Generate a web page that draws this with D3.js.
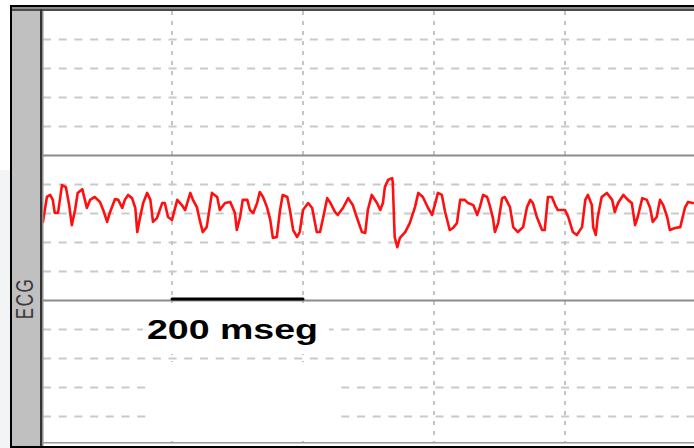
<!DOCTYPE html>
<html>
<head>
<meta charset="utf-8">
<script src="https://cdn.jsdelivr.net/npm/d3@7"></script>
<style>
  body { margin: 0; background: #ffffff; }
  svg { display: block; }
</style>
</head>
<body>
<div id="ecg_chart"></div>
<script>
// ECG trace: time in ms, amplitude in mV
var ecgTime = [3, 9, 14, 18, 21, 26, 32, 38, 43, 47, 52, 56, 63, 67, 70, 75, 82, 90, 95, 101,
  105, 113, 118, 124, 128, 133, 139, 144, 147, 151, 156, 162, 167, 171, 177, 185, 189, 194, 200, 208,
  215, 220, 228, 232, 238, 243, 247, 253, 261, 269, 273, 281, 289,
  296, 299, 304, 308, 315, 319, 324, 330, 334, 339, 345, 350, 354, 360, 365, 369, 376, 380, 385, 391,
  395, 400, 408, 414, 421, 426, 431, 437, 441, 449, 453, 461, 469, 476, 482, 490, 495, 499, 505, 513,
  518, 522, 525, 530, 536, 537, 540, 544, 548, 556, 563, 571, 576, 583, 591, 597, 602, 606, 612, 617,
  624, 629, 635, 640,
  647, 652, 660, 666, 670, 675, 681, 685, 690, 693, 698, 704, 708, 716, 721, 728, 736, 742, 747, 751,
  757, 765, 769, 774, 780, 785, 789, 800, 805, 812, 818, 826, 831, 835, 841, 843, 847, 850, 856, 864,
  872, 876, 881, 889, 896, 902, 907, 911, 918, 925, 930, 934, 940, 945, 950, 956, 960, 968, 976, 983,
  988, 995];
var ecgMv = [0.021, 0.107, 0.114, 0.097, 0.052, 0.052, 0.148, 0.141, 0.079, 0.010, 0.062, 0.121, 0.134, 0.097, 0.069, 0.097, 0.107, 0.090, 0.062, 0.021,
  0.052, 0.100, 0.097, 0.069, 0.097, 0.114, 0.103, 0.069, -0.014, 0.034, 0.086, 0.121, 0.097, 0.021, 0.034, 0.086, 0.086, 0.038, 0.028, 0.097,
  0.079, 0.062, 0.121, 0.097, 0.072, 0.021, -0.014, 0.003, 0.121, 0.107, 0.062, 0.086, 0.090,
  0.052, -0.007, 0.038, 0.097, 0.097, 0.062, 0.052, 0.086, 0.124, 0.107, 0.072, 0.028, -0.034, -0.031, 0.062, 0.114, 0.107, 0.062, -0.007, -0.031,
  -0.014, 0.062, 0.086, 0.069, -0.014, -0.014, 0.038, 0.103, 0.090, 0.055, 0.045, 0.069, 0.103, 0.079, 0.038, -0.014, -0.017, 0.062, 0.114, 0.086,
  0.062, 0.086, 0.141, 0.166, 0.172, 0.159, -0.031, -0.066, -0.034, -0.014, 0.017, 0.072, 0.121, 0.107, 0.069, 0.045, 0.086, 0.121, 0.114, 0.055,
  -0.007, 0.000, 0.017, 0.097,
  0.097, 0.086, 0.079, 0.045, 0.072, 0.114, 0.107, 0.079, 0.034, -0.014, 0.017, 0.103, 0.107, 0.072, 0.003, -0.014, 0.003, 0.072, 0.097, 0.086,
  0.038, -0.007, -0.007, 0.107, 0.107, 0.079, 0.062, 0.062, 0.038, -0.014, -0.024, 0.003, 0.097, 0.114, 0.079, 0.003, -0.024, 0.038, 0.107, 0.121,
  0.097, 0.055, 0.086, 0.114, 0.097, 0.086, 0.010, 0.038, 0.103, 0.097, 0.069, 0.021, 0.038, 0.097, 0.079, 0.038, -0.007, 0.000, 0.003, 0.069,
  0.090, 0.086];

// grid: small divisions every 0.1 mV, heavy line every 0.5 mV, time lines every 200 ms
var gridMv = [0.65, 0.55, 0.45, 0.35, 0.15, 0.05, -0.05, -0.15, -0.35, -0.45, -0.55, -0.65];
var majorMv = [0.25, -0.25];
var gridMs = [200, 400, 600, 800];
var scaleBarMs = [200, 400];
var scaleLabel = "200 mseg";
var leadLabel = "ECG";

document.addEventListener('DOMContentLoaded', function () {
    drawEcg();
});

function drawEcg() {
    var width = 694;
    var height = 448;

    var svg = d3.select("#ecg_chart").append("svg").attr("width", width).attr("height", height);

    var x = d3.scaleLinear().domain([0, 1000]).range([41, 696]);
    var y = d3.scaleLinear().domain([0.75, -0.75]).range([10.5, 445.5]);

    //background, left strip
    svg.append("rect").attr("x", 0).attr("y", 0).attr("width", width).attr("height", height).style("fill", "#ffffff");
    svg.append("rect").attr("x", 0).attr("y", 170).attr("width", 10).attr("height", height - 170).style("fill", "#f3f4f6");

    //dashed horizontal grid
    svg.selectAll("h_grid").data(gridMv).enter().append("line")
        .attr("x1", 43).attr("x2", width)
        .attr("y1", function (d) { return y(d); }).attr("y2", function (d) { return y(d); })
        .attr("stroke", "#c9c9c9").attr("stroke-width", 2).attr("stroke-dasharray", "8,7.7");

    //dashed vertical grid
    svg.selectAll("v_grid").data(gridMs).enter().append("line")
        .attr("x1", function (d) { return x(d); }).attr("x2", function (d) { return x(d); })
        .attr("y1", 11).attr("y2", 443)
        .attr("stroke", "#c4c4c4").attr("stroke-width", 2).attr("stroke-dasharray", "4,6");

    //solid lines
    svg.selectAll("major_grid").data(majorMv).enter().append("line")
        .attr("x1", 43).attr("x2", width)
        .attr("y1", function (d) { return y(d); }).attr("y2", function (d) { return y(d); })
        .attr("stroke", "#8c8c8c").attr("stroke-width", 2);

    //area under the label where the grid is wiped
    svg.append("rect").attr("x", 143).attr("y", 303).attr("width", 186).attr("height", 51).style("fill", "#ffffff");
    svg.append("rect").attr("x", 147).attr("y", 362).attr("width", 191).attr("height", 79).style("fill", "#ffffff");

    //ecg trace
    var line = d3.line()
        .x(function (d, i) { return x(ecgTime[i]); })
        .y(function (d) { return y(d); });
    svg.append("path").datum(ecgMv).attr("d", line)
        .attr("fill", "none").attr("stroke", "#ff1010").attr("stroke-width", 2.6)
        .attr("stroke-linejoin", "round").attr("stroke-linecap", "round");

    //scale bar
    svg.append("line").attr("x1", x(scaleBarMs[0])).attr("x2", x(scaleBarMs[1]))
        .attr("y1", y(-0.245)).attr("y2", y(-0.245))
        .attr("stroke", "#000000").attr("stroke-width", 3).attr("stroke-linecap", "round");
    svg.append("text").text(scaleLabel)
        .attr("x", x(scaleBarMs[0]) - 25).attr("y", 339)
        .attr("textLength", 171).attr("lengthAdjust", "spacingAndGlyphs")
        .style("font-family", "'Liberation Sans', Arial, sans-serif").style("font-weight", "bold")
        .style("font-size", "28.5px").style("fill", "#000000");

    //frame
    svg.append("rect").attr("x", 12).attr("y", 11).attr("width", 28).attr("height", 436).style("fill", "#c0c0c0");
    svg.append("rect").attr("x", 10).attr("y", 5).attr("width", 2).attr("height", 443).style("fill", "#000000");
    svg.append("rect").attr("x", 10).attr("y", 5).attr("width", width - 10).attr("height", 2).style("fill", "#000000");
    svg.append("rect").attr("x", 12).attr("y", 7).attr("width", width - 12).attr("height", 2).style("fill", "#8a8a8a");
    svg.append("rect").attr("x", 12).attr("y", 9).attr("width", width - 12).attr("height", 2).style("fill", "#4a4a4a");
    svg.append("rect").attr("x", 40).attr("y", 9).attr("width", 2).attr("height", 439).style("fill", "#333333");
    svg.append("rect").attr("x", 42).attr("y", 11).attr("width", 1.5).attr("height", 437).style("fill", "#909090");
    svg.append("rect").attr("x", 42).attr("y", 442).attr("width", width - 42).attr("height", 1.5).style("fill", "#9a9a9a");
    svg.append("rect").attr("x", 10).attr("y", 446).attr("width", width - 10).attr("height", 2).style("fill", "#000000");

    //lead label
    svg.append("text").text(leadLabel)
        .attr("transform", "translate(33, 298.5) scale(1.4, 1) rotate(-90)")
        .attr("text-anchor", "middle")
        .style("font-family", "'Liberation Sans', Arial, sans-serif").style("font-size", "17px")
        .style("letter-spacing", "1.5px").style("fill", "#3a3a3a");
}
</script>
</body>
</html>
